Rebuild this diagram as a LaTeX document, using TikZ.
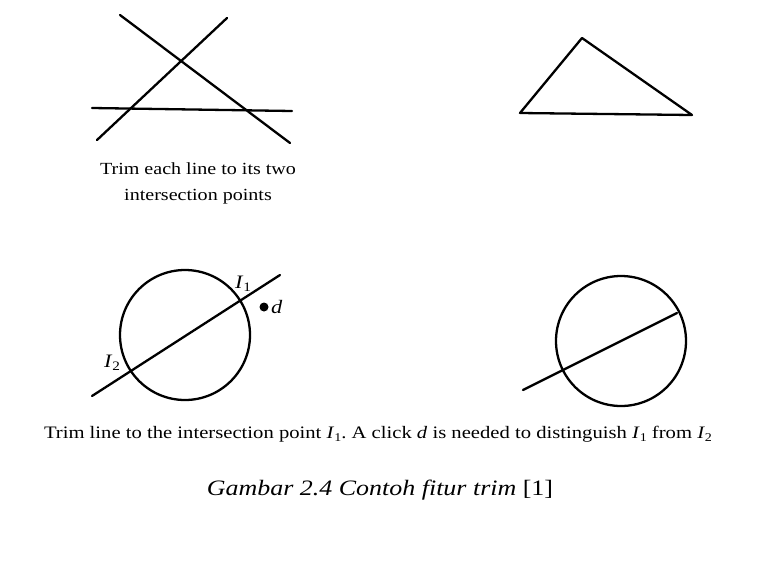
\documentclass[tikz,border=0pt]{standalone}
\usepackage{fontspec}
\setmainfont{Liberation Serif}
\frenchspacing
\newcommand{\isub}[2]{\textit{#1}\raisebox{-0.35ex}{\fontsize{0.68em}{0.68em}\selectfont #2}}
\newcommand{\wide}[1]{\scalebox{1.18}[1]{#1}}
\begin{document}
\begin{tikzpicture}[x=1pt,y=-1pt,
  stroke/.style={line width=2.3pt,black,line cap=round,line join=round},
  ring/.style={circle,draw,line width=2.3pt,minimum size=130pt,inner sep=0pt},
  lbl/.style={inner sep=0pt,font=\fontsize{19}{19}\selectfont},
  captext/.style={inner sep=0pt,align=center},
]
\useasboundingbox[fill=white] (0,0) rectangle (759,562);
% top-left: three lines
\coordinate (a1) at (120,15);  \coordinate (a2) at (290,143);
\coordinate (b1) at (227,18);  \coordinate (b2) at (97,140);
\coordinate (h1) at (92,108);  \coordinate (h2) at (292,111);
\draw[stroke] (a1) -- (a2);
\draw[stroke] (b1) -- (b2);
\draw[stroke] (h1) -- (h2);
\node[captext,font=\fontsize{17}{26}\selectfont] (cap1) at (198,183) {\wide{Trim each line to its two}\\\wide{intersection points}};
% top-right: triangle
\coordinate (t1) at (582,38); \coordinate (t2) at (520,113); \coordinate (t3) at (692,115);
\draw[stroke] (t1) -- (t2) -- (t3) -- cycle;
% bottom-left: circle with line
\node[ring] (c1) at (185,335) {};
\coordinate (l1) at (92,396); \coordinate (l2) at (280,275);
\draw[stroke] (l1) -- (l2);
\node[lbl] (i1) at (243,284) {\wide{\isub{I}{1}}};
\node[lbl] (i2) at (112,363) {\wide{\isub{I}{2}}};
\fill (264,307) circle (4.5pt) node[lbl,anchor=west,xshift=7pt] (d) {\wide{\textit{d}}};
% bottom-right: circle with trimmed line
\node[ring] (c2) at (621,341) {};
\coordinate (r1) at (523,390); \coordinate (r2) at (677,313);
\draw[stroke] (r1) -- (r2);
% captions
\node[captext,font=\fontsize{17.5}{20}\selectfont] (cap2) at (378,434) {\wide{Trim line to the intersection point \isub{I}{1}. A click \textit{d} is needed to distinguish \isub{I}{1} from \isub{I}{2}}};
\node[captext,font=\fontsize{22}{24}\selectfont] (cap3) at (380,490) {\wide{\textit{Gambar 2.4 Contoh fitur trim} [1]}};
\end{tikzpicture}
\end{document}
